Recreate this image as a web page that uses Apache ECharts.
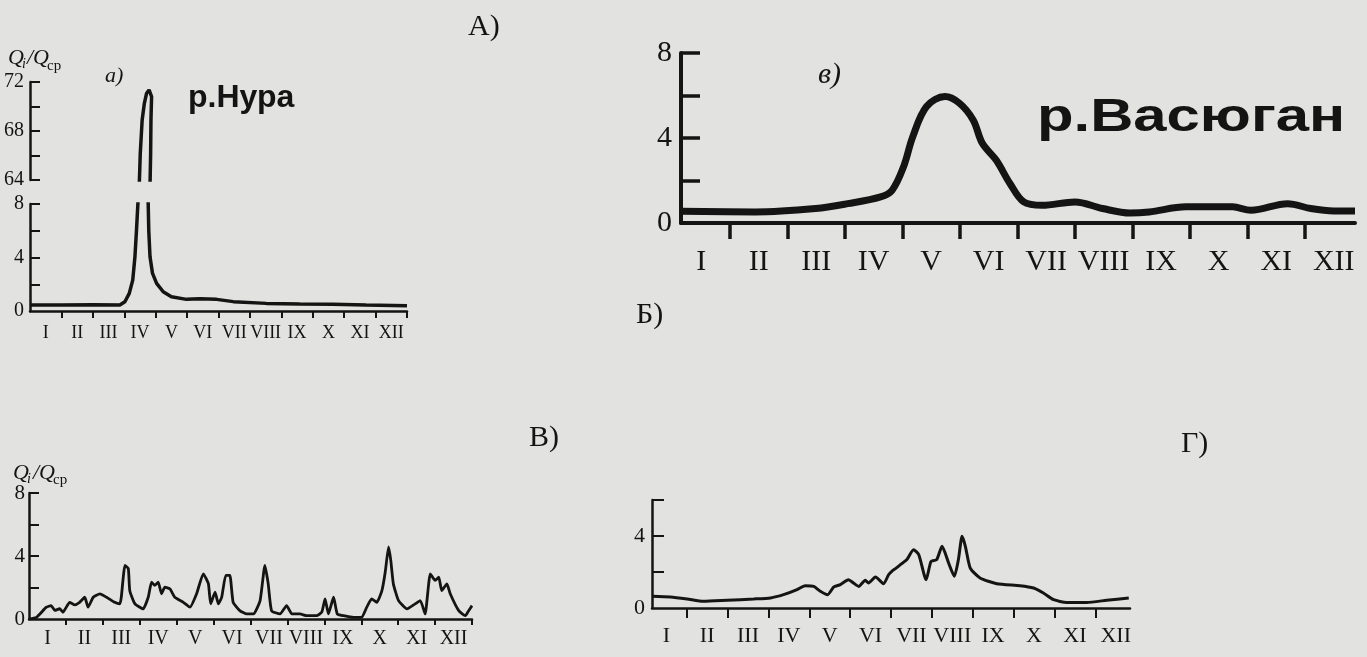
<!DOCTYPE html>
<html><head><meta charset="utf-8">
<script src="https://cdn.jsdelivr.net/npm/echarts@6/dist/echarts.min.js"></script>
<style>html,body{margin:0;padding:0;background:#e2e2e0}#c{width:1367px;height:657px}</style>
</head><body><div id="c"></div>
<script>
// ---------- data ----------
const monthLabels = ['I','II','III','IV','V','VI','VII','VIII','IX','X','XI','XII'];
const monthLabelPos = [0.5,1.5,2.5,3.5,4.5,5.5,6.5,7.5,8.5,9.5,10.5,11.5];
const monthTicks = [1,2,3,4,5,6,7,8,9,10,11,12];

// A) р.Нура
const nuraMonths = [0,1,2,2.86,3.02,3.16,3.27,3.34,3.39,3.44,3.476,3.51,3.57,3.64,3.71,3.79,3.87,3.85,3.84,3.82,3.76,3.78,3.82,3.9,4.03,4.24,4.5,4.98,5.41,5.94,6.47,7.52,8.58,9.63,10.69,12];
const nuraValues = [0.45,0.45,0.47,0.45,0.69,1.32,2.31,4.05,6.04,8.28,63.45,66.18,68.9,70.26,71.08,71.35,70.8,68.9,66.18,63.45,8.28,6.04,4.05,2.81,2.07,1.44,1.07,0.87,0.92,0.87,0.7,0.57,0.52,0.5,0.45,0.4];

// Б) р.Васюган
const vasMonths = [0.15,1.44,2.49,3.05,3.62,3.82,4.02,4.18,4.42,4.74,4.99,5.23,5.39,5.63,5.87,6.11,6.43,7.0,7.48,7.96,8.29,8.93,9.74,10.06,10.7,11.1,11.5,11.87];
const vasValues = [0.55,0.52,0.68,0.91,1.23,1.54,2.65,4.06,5.48,5.95,5.64,4.85,3.75,2.96,1.86,0.99,0.83,0.99,0.68,0.47,0.52,0.76,0.76,0.6,0.91,0.68,0.57,0.57];

// В)
const vMonths = [0,0.2,0.47,0.6,0.7,0.83,0.92,1.01,1.1,1.24,1.37,1.51,1.6,1.74,1.92,2.1,2.32,2.46,2.5,2.6,2.69,2.73,2.87,3.09,3.23,3.32,3.41,3.5,3.59,3.68,3.82,3.95,4.18,4.36,4.54,4.72,4.86,4.92,5.04,5.13,5.22,5.33,5.44,5.53,5.71,5.9,6.08,6.26,6.39,6.48,6.57,6.8,6.98,7.12,7.34,7.52,7.79,7.93,8.02,8.11,8.25,8.35,8.52,8.79,9.01,9.15,9.28,9.42,9.56,9.65,9.74,9.8,9.87,10.01,10.24,10.46,10.6,10.73,10.87,11.0,11.1,11.18,11.32,11.41,11.64,11.82,11.91,12.0];
const vValues = [0,0.1,0.75,0.85,0.55,0.65,0.43,0.75,1.06,0.9,1.06,1.38,0.75,1.38,1.6,1.38,1.06,0.96,1.38,3.4,3.2,1.8,0.96,0.64,1.38,2.34,2.13,2.34,1.6,2.02,1.9,1.38,1.06,0.75,1.6,2.87,2.23,0.96,1.7,0.96,1.38,2.77,2.77,1.06,0.53,0.32,0.32,1.17,3.4,2.23,0.53,0.32,0.85,0.32,0.32,0.21,0.21,0.43,1.28,0.32,1.38,0.32,0.21,0.1,0.1,0.75,1.28,1.06,1.8,2.98,4.57,3.72,2.23,1.17,0.64,0.96,1.17,0.32,2.87,2.45,2.66,1.8,2.23,1.6,0.53,0.21,0.53,0.85];

// Г)
const gMonths = [0.15,0.6,1.01,1.41,1.99,2.64,3.05,3.37,3.7,3.9,4.11,4.27,4.45,4.6,4.76,4.96,5.08,5.21,5.37,5.45,5.62,5.82,5.94,6.02,6.1,6.23,6.39,6.55,6.68,6.86,6.98,7.12,7.25,7.41,7.55,7.65,7.74,7.82,7.94,8.18,8.59,9.16,9.49,9.73,9.98,10.3,10.79,11.28,11.82];
const gValues = [0.65,0.61,0.5,0.37,0.43,0.5,0.56,0.74,1.02,1.24,1.2,0.93,0.74,1.17,1.3,1.57,1.39,1.2,1.54,1.39,1.72,1.35,1.85,2.04,2.17,2.41,2.69,3.24,2.96,1.57,2.59,2.69,3.43,2.5,1.76,2.69,3.98,3.43,2.22,1.67,1.35,1.24,1.11,0.83,0.46,0.31,0.31,0.43,0.56];

// ---------- helpers ----------
const INK = '#141414';
const SERIF = '"Liberation Serif", serif';
const zip = (a, b) => a.map((v, i) => [v, b[i]]);

function xAx(gi, min, max, o) {
  return {
    type: 'value', gridIndex: gi, min, max, show: o.show !== false,
    axisLine: { onZero: false, lineStyle: { color: INK, width: o.lw } },
    splitLine: { show: false },
    axisTick: { customValues: monthTicks.filter(t => t <= max + 1e-6 && t > min), length: o.tl, lineStyle: { color: INK, width: o.tw } },
    axisLabel: { customValues: monthLabelPos, formatter: v => monthLabels[Math.floor(v)], color: INK, fontFamily: SERIF, fontSize: o.fs, margin: o.m, hideOverlap: false }
  };
}
function yAx(gi, min, max, ticks, labels, o) {
  return {
    type: 'value', gridIndex: gi, min, max,
    axisLine: { show: true, onZero: false, lineStyle: { color: INK, width: o.lw } },
    splitLine: { show: false },
    axisTick: { show: true, inside: true, customValues: ticks, length: o.tl, lineStyle: { color: INK, width: o.tw } },
    axisLabel: { customValues: labels, color: INK, fontFamily: SERIF, fontSize: o.fs, margin: o.m, hideOverlap: false }
  };
}
function lineS(xi, data, w, smooth) {
  return { type: 'line', xAxisIndex: xi, yAxisIndex: xi, data, symbol: 'none', smooth,
    lineStyle: { color: INK, width: w }, clip: true, animation: false };
}
function txt(x, y, text, font) {
  return { type: 'text', x, y, style: { text, font, fill: INK, textVerticalAlign: 'middle' } };
}

const chart = echarts.init(document.getElementById('c'));
chart.setOption({
  backgroundColor: '#e2e2e0',
  animation: false,
  grid: [
    { left: 30, top: 82, width: 377, height: 98 },            // A upper (64-72)
    { left: 30, top: 204, width: 377, height: 107 },          // A lower (0-8)
    { left: 681, top: 53, width: 674, height: 170 },          // Б
    { left: 29, top: 493, width: 443, height: 126 },          // В
    { left: 652, top: 500, width: 478, height: 108 }          // Г
  ],
  xAxis: [
    xAx(0, 0, 12, { show: false, lw: 2.5, tl: 7, tw: 2, fs: 18, m: 13 }),
    xAx(1, 0, 12, { lw: 2.5, tl: 7, tw: 2, fs: 18, m: 13 }),
    xAx(2, 0.15, 11.87, { lw: 4, tl: 16, tw: 3.5, fs: 30, m: 24 }),
    xAx(3, 0, 12, { lw: 2.5, tl: 6, tw: 2, fs: 20, m: 10 }),
    xAx(4, 0.15, 11.85, { lw: 2.5, tl: 10, tw: 2, fs: 22, m: 17 })
  ],
  yAxis: [
    yAx(0, 64, 72, [64,66,68,70,72], [64,68,72], { lw: 2.5, tl: 10, tw: 2, fs: 20, m: 6 }),
    yAx(1, 0, 8, [2,4,6,8], [0,4,8], { lw: 2.5, tl: 10, tw: 2, fs: 20, m: 6 }),
    yAx(2, 0, 8, [2,4,6,8], [0,4,8], { lw: 4, tl: 19, tw: 3.5, fs: 30, m: 9 }),
    yAx(3, 0, 8, [2,4,6,8], [0,4,8], { lw: 2.5, tl: 10, tw: 2, fs: 21, m: 4 }),
    yAx(4, 0, 6, [2,4,6], [0,4], { lw: 2.5, tl: 12, tw: 2, fs: 22, m: 7 })
  ],
  series: [
    lineS(0, zip(nuraMonths, nuraValues), 3.5, false),
    lineS(1, zip(nuraMonths, nuraValues), 3.5, false),
    lineS(2, zip(vasMonths, vasValues), 7, 0.35),
    lineS(3, zip(vMonths, vValues), 2.8, 0.15),
    lineS(4, zip(gMonths, gValues), 3, 0.2)
  ],
  graphic: [
    txt(468, 27, 'А)', '30px ' + SERIF),
    txt(636, 315, 'Б)', '30px ' + SERIF),
    txt(529, 438, 'В)', '30px ' + SERIF),
    txt(1181, 444, 'Г)', '30px ' + SERIF),
    txt(8, 58, 'Q', 'italic 22px ' + SERIF),
    txt(22, 64, 'i', 'italic 14px ' + SERIF),
    txt(27, 58, '/Q', 'italic 22px ' + SERIF),
    txt(47, 66, 'ср', '15px ' + SERIF),
    txt(105, 76, 'а)', 'italic 22px ' + SERIF),
    txt(188, 98, 'р.Нура', 'bold 32px "Liberation Sans", Arial, sans-serif'),
    txt(818, 75, 'в)', 'italic 30px ' + SERIF),
    { type: 'text', x: 1037, y: 118, scaleX: 1.3, scaleY: 1, style: { text: 'р.Васюган', font: 'bold 46px "Liberation Sans", Arial, sans-serif', fill: INK, textVerticalAlign: 'middle' } },
    txt(13, 473, 'Q', 'italic 22px ' + SERIF),
    txt(27, 479, 'i', 'italic 14px ' + SERIF),
    txt(33, 473, '/Q', 'italic 22px ' + SERIF),
    txt(53, 480, 'ср', '15px ' + SERIF)
  ]
});
</script></body></html>
